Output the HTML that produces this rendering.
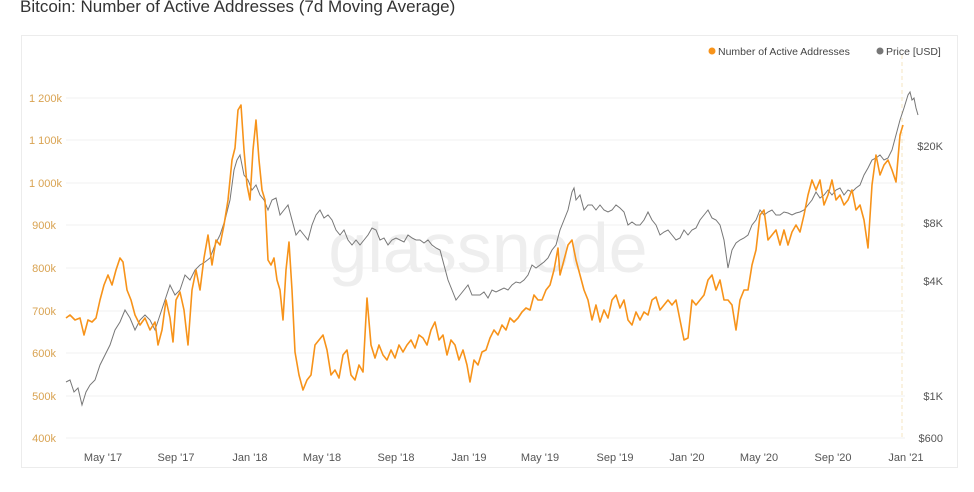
<!DOCTYPE html>
<html><head><meta charset="utf-8"><style>
body{margin:0;background:#fff;width:974px;height:487px;overflow:hidden;font-family:"Liberation Sans",sans-serif}
</style></head><body>
<svg width="974" height="487" xmlns="http://www.w3.org/2000/svg" font-family="Liberation Sans, sans-serif">
<text x="20" y="12" font-size="17" fill="#333">Bitcoin: Number of Active Addresses (7d Moving Average)</text>
<rect x="21.5" y="35.5" width="936" height="432" fill="#fff" stroke="#ececec"/>
<g stroke="#f1f1f1" stroke-width="1">
<line x1="66" x2="905" y1="98" y2="98"/><line x1="66" x2="905" y1="140" y2="140"/><line x1="66" x2="905" y1="183" y2="183"/><line x1="66" x2="905" y1="225" y2="225"/><line x1="66" x2="905" y1="268" y2="268"/><line x1="66" x2="905" y1="311" y2="311"/><line x1="66" x2="905" y1="353" y2="353"/><line x1="66" x2="905" y1="396" y2="396"/><line x1="66" x2="905" y1="438" y2="438"/>
</g>
<line x1="902" x2="902" y1="55" y2="440" stroke="#f5e6c0" stroke-dasharray="4,3"/>
<text x="488" y="272" font-size="70" fill="#eeeeee" text-anchor="middle">glassnode</text>
<g font-size="11" fill="#d9a352" text-anchor="end">
<text x="62" y="102">1 200k</text><text x="62" y="144">1 100k</text><text x="62" y="187">1 000k</text><text x="56" y="229">900k</text><text x="56" y="272">800k</text><text x="56" y="315">700k</text><text x="56" y="357">600k</text><text x="56" y="400">500k</text><text x="56" y="442">400k</text>
</g>
<g font-size="11" fill="#555" text-anchor="end">
<text x="943" y="150">$20K</text><text x="943" y="227">$8K</text><text x="943" y="285">$4K</text><text x="943" y="400">$1K</text><text x="943" y="442">$600</text>
</g>
<g font-size="11" fill="#555" text-anchor="middle">
<text x="103" y="461">May '17</text><text x="176" y="461">Sep '17</text><text x="250" y="461">Jan '18</text><text x="322" y="461">May '18</text><text x="396" y="461">Sep '18</text><text x="469" y="461">Jan '19</text><text x="540" y="461">May '19</text><text x="615" y="461">Sep '19</text><text x="687" y="461">Jan '20</text><text x="759" y="461">May '20</text><text x="833" y="461">Sep '20</text><text x="906" y="461">Jan '21</text>
</g>
<circle cx="712" cy="51" r="3.5" fill="#f7931a"/><text x="718" y="55" font-size="10.5" fill="#444">Number of Active Addresses</text>
<circle cx="880" cy="51" r="3.5" fill="#777"/><text x="886" y="55" font-size="10.5" fill="#444">Price [USD]</text>
<polyline fill="none" stroke="#777" stroke-width="1" points="66,382 70,380 74,392 78,388 82,405 86,392 90,385 95,380 100,365 105,355 110,345 115,330 120,322 125,310 130,318 135,330 140,320 145,315 150,320 155,330 160,315 165,300 170,285 175,295 180,290 185,275 190,280 195,270 200,265 205,262 210,258 215,245 220,235 225,220 230,200 234,170 237,160 240,155 244,175 248,180 252,190 256,185 260,195 264,200 268,210 272,200 276,198 280,215 284,210 288,205 292,220 296,235 300,230 304,235 308,240 312,225 316,215 320,210 324,218 328,215 332,220 336,230 340,235 344,230 348,240 352,245 356,240 360,245 364,240 368,235 372,228 376,230 380,240 384,238 388,245 392,240 396,238 400,240 404,242 408,235 412,238 416,240 420,240 424,243 428,240 432,245 436,248 440,250 444,265 448,280 452,290 456,300 460,295 464,290 468,285 472,295 476,295 480,295 484,292 488,298 492,290 496,292 500,290 504,288 508,290 512,285 516,282 520,283 524,280 528,275 532,265 536,268 540,265 544,262 548,258 552,250 556,245 560,230 564,220 568,210 572,192 574,188 576,200 580,195 584,210 588,205 592,205 596,210 600,205 604,210 608,212 612,210 616,205 620,208 624,212 628,225 632,222 636,225 640,225 644,220 648,212 652,220 656,225 660,235 664,232 668,230 672,235 676,240 680,238 684,230 688,235 692,230 696,228 700,220 704,215 708,210 712,218 716,220 720,225 724,240 728,268 732,250 736,243 740,240 744,238 748,235 752,225 756,220 760,210 764,215 768,212 772,210 776,215 780,215 784,212 788,213 792,215 796,213 800,212 804,210 808,205 812,200 816,192 820,198 824,195 828,190 832,195 836,190 840,188 844,195 848,190 852,192 856,188 860,185 864,175 868,168 872,160 876,158 880,155 884,160 888,158 892,150 896,135 900,120 904,108 908,95 910,92 912,100 914,98 916,108 918,115"/>
<polyline fill="none" stroke="#f7931a" stroke-width="1.6" stroke-linejoin="round" points="66,318 70,315 75,320 80,318 84,335 88,320 92,322 96,318 100,300 104,285 108,275 112,285 116,270 120,258 123,262 127,290 131,300 135,315 140,325 145,318 150,330 155,322 158,345 162,330 166,300 170,318 173,342 176,300 180,292 184,310 188,345 192,290 196,270 200,290 204,258 208,235 212,265 216,240 220,245 224,225 228,200 232,160 235,148 238,110 241,105 244,150 247,185 250,200 253,150 256,120 259,160 262,190 265,200 268,260 271,265 274,258 277,280 280,290 283,320 286,270 289,242 292,290 295,352 299,375 303,390 307,380 311,375 315,345 319,340 323,335 327,350 331,375 335,370 339,378 343,355 347,350 351,375 355,380 359,365 363,372 367,298 371,345 375,358 379,345 383,355 387,360 391,350 395,358 399,345 403,352 407,345 411,340 415,348 419,335 423,338 427,345 431,330 435,322 439,340 443,335 447,355 451,340 455,345 459,360 463,350 467,365 470,382 474,360 478,365 482,352 486,350 490,338 494,330 498,335 502,325 506,330 510,318 514,322 518,318 522,312 526,308 530,310 534,295 538,300 542,300 546,290 550,285 554,270 558,248 560,275 564,260 568,245 572,240 576,260 580,275 584,290 588,300 592,320 596,305 600,322 604,310 608,318 612,300 616,295 620,308 624,300 628,320 632,325 636,312 640,320 644,312 648,315 652,300 656,297 660,310 664,305 668,300 672,305 676,300 680,320 684,340 688,338 692,300 696,305 700,300 704,295 708,280 712,275 716,290 720,280 724,300 728,300 732,305 736,330 740,300 744,290 748,290 752,265 756,250 760,215 764,210 768,240 772,235 776,230 780,245 784,230 788,245 792,232 796,225 800,232 804,215 808,195 812,180 816,190 820,180 824,205 828,195 832,180 836,200 840,195 844,205 848,200 852,190 856,210 860,205 864,220 868,248 872,185 876,155 880,175 884,165 888,160 892,170 896,182 900,135 903,125"/>
</svg>
</body></html>
